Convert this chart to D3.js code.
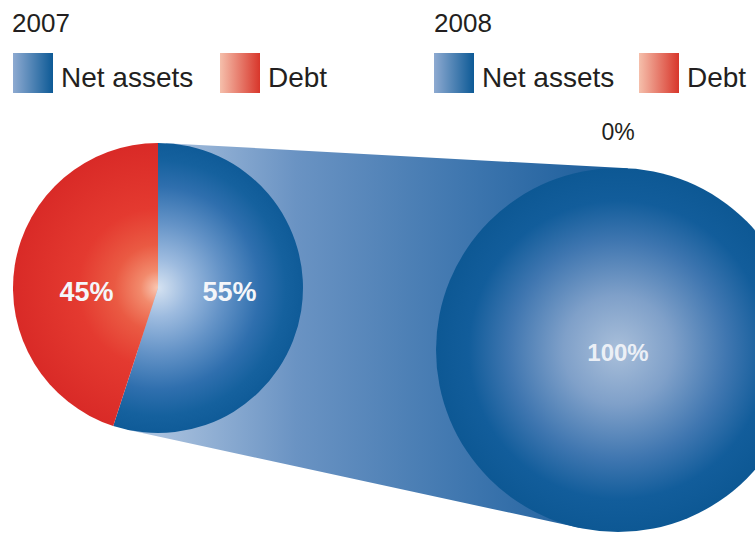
<!DOCTYPE html>
<html>
<head>
<meta charset="utf-8">
<script src="https://cdn.jsdelivr.net/npm/d3@7"></script>
<style>
  html, body { margin: 0; padding: 0; background: #ffffff; }
  svg { display: block; font-family: "Liberation Sans", Arial, Helvetica, sans-serif; }
</style>
</head>
<body>
<svg id="chart" width="755" height="535"></svg>
<script>
// ---- data ----
const years = ["2007", "2008"];
const categories = ["Net assets", "Debt"];
const values2007 = [55, 45];
const values2008 = [100, 0];
const valueLabels2007 = ["55%", "45%"];
const valueLabels2008 = ["100%", "0%"];

// ---- layout ----
const svg = d3.select("#chart");
const defs = svg.append("defs");

const pies = [
  { year: years[0], values: values2007, labels: valueLabels2007, cx: 158, cy: 288, r: 145 },
  { year: years[1], values: values2008, labels: valueLabels2008, cx: 618, cy: 350, r: 182 }
];

// gradients
function radial(id, r, stops) {
  const g = defs.append("radialGradient").attr("id", id)
    .attr("gradientUnits", "userSpaceOnUse")
    .attr("cx", 0).attr("cy", 0).attr("r", r).attr("fx", 0).attr("fy", 0);
  stops.forEach(s => g.append("stop").attr("offset", s[0]).attr("stop-color", s[1]));
}
function linear(id, x1, x2, stops) {
  const g = defs.append("linearGradient").attr("id", id)
    .attr("gradientUnits", "userSpaceOnUse")
    .attr("x1", x1).attr("x2", x2).attr("y1", 0).attr("y2", 0);
  stops.forEach(s => g.append("stop").attr("offset", s[0]).attr("stop-color", s[1]));
}

const blueStops = [[0, "#d5e2f1"], [0.2, "#9dbbdf"], [0.45, "#6493c7"], [0.7, "#2f6fae"], [0.88, "#15619e"], [1, "#0f5b98"]];
const redStops  = [[0, "#f9c9b4"], [0.12, "#f28a6c"], [0.3, "#ea5a43"], [0.55, "#e43a30"], [1, "#d92a27"]];
const blueStops2 = [[0, "#a9bfda"], [0.3, "#7fa0c9"], [0.6, "#3f76b0"], [0.82, "#125d9b"], [1, "#0d5894"]];

pies.forEach((p, i) => {
  radial("blue" + i, p.r, i === 0 ? blueStops : blueStops2);
  radial("red" + i, p.r, redStops);
});

// band gradient
linear("band", pies[0].cx, pies[1].cx, [[0, "#a9c1de"], [0.3, "#6a93c3"], [0.7, "#3b74ad"], [1, "#1b5d9a"]]);
// legend swatch gradients
const swatchBlue = [[0, "#8eaad1"], [1, "#0d5a96"]];
const swatchRed = [[0, "#f5bfab"], [1, "#d8362b"]];

// ---- connecting band: external common tangents of both circles ----
(function drawBand() {
  const a = pies[0], b = pies[1];
  const dx = b.cx - a.cx, dy = b.cy - a.cy;
  const d = Math.hypot(dx, dy);
  const th = Math.atan2(dy, dx);
  const al = Math.acos((a.r - b.r) / d);
  const pt = (c, ang) => [c.cx + c.r * Math.cos(ang), c.cy + c.r * Math.sin(ang)];
  const pts = [pt(a, th - al), pt(b, th - al), pt(b, th + al), pt(a, th + al)];
  svg.append("path")
    .attr("d", d3.line()(pts) + "Z")
    .attr("fill", "url(#band)");
})();

// ---- pies ----
const pieGen = d3.pie().sort(null).value(d => d);
const colorIds = ["blue", "red"];

pies.forEach((p, i) => {
  const arc = d3.arc().innerRadius(0).outerRadius(p.r);
  const arcs = pieGen(p.values);
  const g = svg.append("g").attr("transform", `translate(${p.cx},${p.cy})`);
  g.selectAll("path")
    .data(arcs.filter(d => d.value > 0))
    .join("path")
    .attr("d", arc)
    .attr("fill", d => `url(#${colorIds[d.index]}${i})`);

  // labels
  const labelArc = d3.arc().innerRadius(p.r * 0.5).outerRadius(p.r * 0.5);
  arcs.forEach(d => {
    if (d.value > 0) {
      const c = labelArc.centroid(d);
      const full = d.value === 100;
      g.append("text")
        .attr("x", full ? 0 : c[0])
        .attr("y", full ? 11 : 13)
        .attr("text-anchor", "middle")
        .attr("font-size", full ? 24 : 27)
        .attr("font-weight", "bold")
        .attr("fill", "#f4f6fa")
        .attr("fill-opacity", full ? 0.92 : 1)
        .text(p.labels[d.index]);
    } else {
      // zero slice: label above the pie at its angle
      g.append("text")
        .attr("x", 0)
        .attr("y", -p.r - 28)
        .attr("text-anchor", "middle")
        .attr("font-size", 23)
        .attr("fill", "#231f20")
        .text(p.labels[d.index]);
    }
  });
});

// ---- titles & legends ----
const legendX = [12, 433];
pies.forEach((p, i) => {
  const lx = legendX[i];
  svg.append("text")
    .attr("x", lx + (i === 0 ? 0 : 1)).attr("y", 32)
    .attr("font-size", 26)
    .attr("fill", "#231f20")
    .text(p.year);

  const dx = i === 0 ? 208 : 206;
  linear("sb" + i, lx + 1, lx + 41, swatchBlue);
  linear("sr" + i, lx + dx, lx + dx + 40, swatchRed);

  svg.append("rect").attr("x", lx + 1).attr("y", 53).attr("width", 40).attr("height", 40)
    .attr("fill", `url(#sb${i})`);
  svg.append("text").attr("x", lx + 49).attr("y", 87)
    .attr("font-size", 28).attr("fill", "#231f20")
    .text(categories[0]);

  svg.append("rect").attr("x", lx + dx).attr("y", 53).attr("width", 40).attr("height", 40)
    .attr("fill", `url(#sr${i})`);
  svg.append("text").attr("x", lx + dx + 48).attr("y", 87)
    .attr("font-size", 28).attr("fill", "#231f20")
    .text(categories[1]);
});
</script>
</body>
</html>
